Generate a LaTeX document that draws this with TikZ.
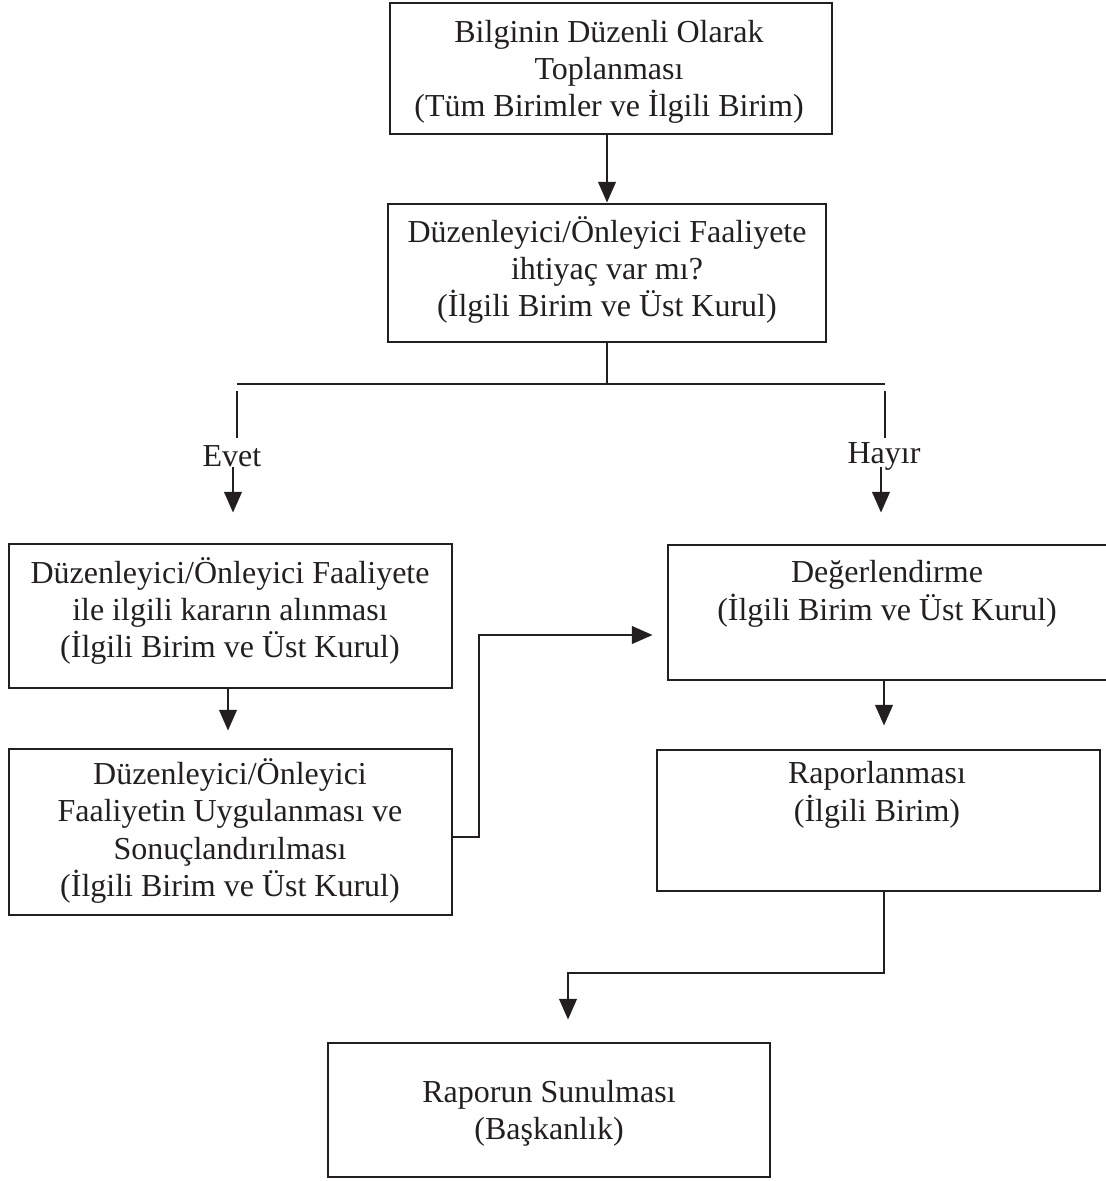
\documentclass[tikz,border=0pt]{standalone}
\usepackage{fontspec}
\setmainfont{Liberation Serif}
\usetikzlibrary{arrows.meta}
\definecolor{ink}{RGB}{35,31,32}
\begin{document}
\begin{tikzpicture}[x=0.75pt,y=-0.75pt,
  box/.style={draw=ink, line width=2.1pt, inner sep=0pt, fill=none},
  txt/.style={inner sep=0pt, align=center, text=ink, font=\fontsize{24pt}{28pt}\selectfont},
  lbl/.style={inner sep=0pt, text=ink, font=\fontsize{24pt}{28pt}\selectfont},
  line/.style={draw=ink, line width=2.1pt},
  arr/.style={line, -{Triangle[width=13pt,length=15.5pt]}}]
\useasboundingbox (0,0) rectangle (1106,1181);
\clip (0,0) rectangle (1106,1181);

% boxes
\node[box, minimum width={442*0.75pt}, minimum height={131*0.75pt}] (b1) at (611,68.5) {};
\node[box, minimum width={438*0.75pt}, minimum height={138*0.75pt}] (b2) at (607,273) {};
\node[box, minimum width={443*0.75pt}, minimum height={144*0.75pt}] (b3) at (230.5,616) {};
\node[box, minimum width={443*0.75pt}, minimum height={166*0.75pt}] (b4) at (230.5,832) {};
\node[box, minimum width={444*0.75pt}, minimum height={135*0.75pt}] (b5) at (890,612.5) {};
\node[box, minimum width={443*0.75pt}, minimum height={141*0.75pt}] (b6) at (878.5,820.5) {};
\node[box, minimum width={442*0.75pt}, minimum height={134*0.75pt}] (b7) at (549,1110) {};

% texts
\node[txt] (t1) at (609,72) {Bilginin Düzenli Olarak\\Toplanması\\(Tüm Birimler ve İlgili Birim)};
\node[txt] (t2) at (607,270) {Düzenleyici/Önleyici Faaliyete\\ihtiyaç var mı?\\(İlgili Birim ve Üst Kurul)};
\node[txt] (t3) at (230,611) {Düzenleyici/Önleyici Faaliyete\\ile ilgili kararın alınması\\(İlgili Birim ve Üst Kurul)};
\node[txt] (t4) at (230,831) {Düzenleyici/Önleyici\\Faaliyetin Uygulanması ve\\Sonuçlandırılması\\(İlgili Birim ve Üst Kurul)};
\node[txt] (t5) at (887,594) {Değerlendirme\\(İlgili Birim ve Üst Kurul)};
\node[txt] (t6) at (877,795) {Raporlanması\\(İlgili Birim)};
\node[txt] (t7) at (549,1113) {Raporun Sunulması\\(Başkanlık)};

% labels
\node[lbl, anchor=base] (evet) at (232,466) {Evet};
\node[lbl, anchor=base] (hayir) at (884,463) {Hayır};

% coordinates
\coordinate (fork) at (607,384);
\coordinate (forkL) at (237,384);
\coordinate (forkR) at (885,384);
\coordinate (eTop) at (237,391);
\coordinate (eBot) at (237,438);
\coordinate (hTop) at (885,391);
\coordinate (hBot) at (885,438);
\coordinate (eA) at (233,467);
\coordinate (hA) at (881,467);
\coordinate (c1) at (479,837);
\coordinate (c2) at (479,635);
\coordinate (v5) at (884,0);
\coordinate (r1) at (884,973);
\coordinate (r2) at (568,973);

% connectors
\draw[arr] (b2.north |- b1.south) -- (b2.north);
\draw[line] (b2.south) -- (fork);
\draw[line] (forkL) -- (forkR);
\draw[line] (eTop) -- (eBot);
\draw[line] (hTop) -- (hBot);
\draw[arr, shorten >={30*0.75pt}] (eA) -- (eA |- b3.north);
\draw[arr, shorten >={31*0.75pt}] (hA) -- (hA |- b5.north);
\draw[arr, shorten >={17*0.75pt}] (b3.south -| 228,0) -- (b4.north -| 228,0);
\draw[arr, shorten >={14*0.75pt}] (b4.east |- c1) -- (c1) -- (c2) -- (b5.west |- c2);
\draw[arr, shorten >={23*0.75pt}] (b5.south -| v5) -- (b6.north -| v5);
\draw[arr, shorten >={22*0.75pt}] (b6.south -| r1) -- (r1) -- (r2) -- (b7.north -| r2);
\end{tikzpicture}
\end{document}
